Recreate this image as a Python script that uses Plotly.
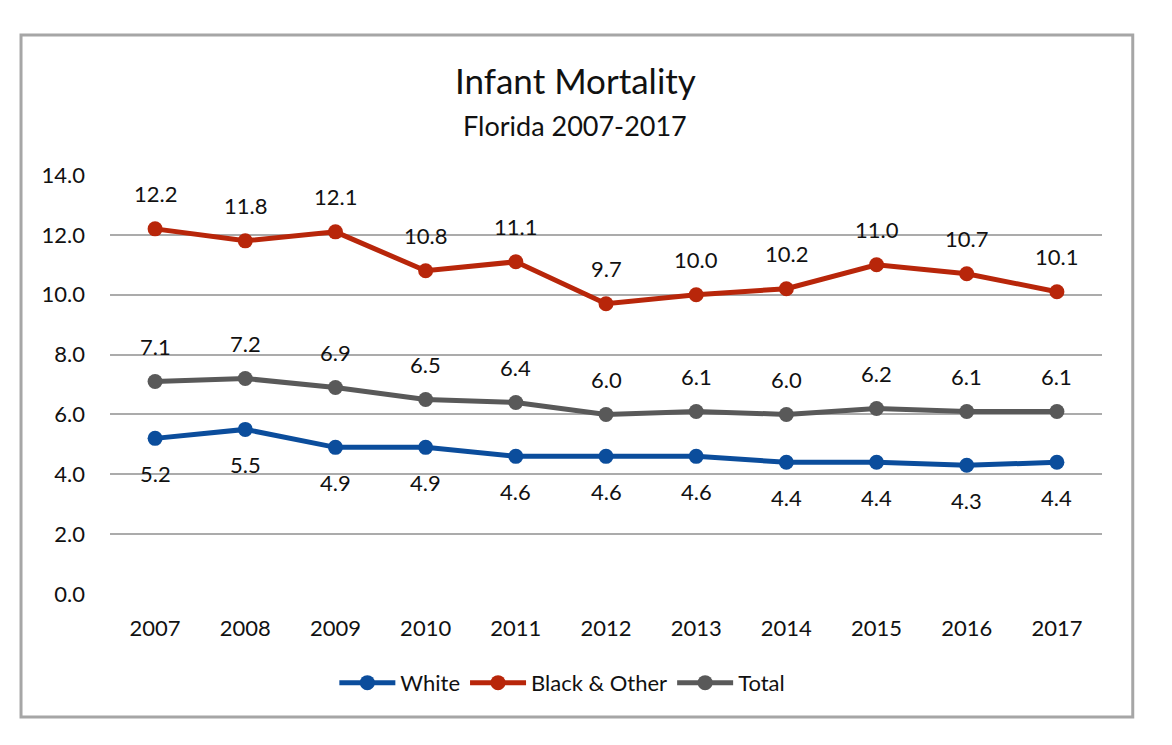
import plotly.graph_objects as go

years = ["2007", "2008", "2009", "2010", "2011", "2012", "2013", "2014", "2015", "2016", "2017"]
white = [5.2, 5.5, 4.9, 4.9, 4.6, 4.6, 4.6, 4.4, 4.4, 4.3, 4.4]
black_other = [12.2, 11.8, 12.1, 10.8, 11.1, 9.7, 10.0, 10.2, 11.0, 10.7, 10.1]
total = [7.1, 7.2, 6.9, 6.5, 6.4, 6.0, 6.1, 6.0, 6.2, 6.1, 6.1]
y_ticks = [0, 2, 4, 6, 8, 10, 12, 14]

FONT = "Lato, 'Open Sans', sans-serif"
series = [
    ("White", white, "#0B4D9C", -1),
    ("Black & Other", black_other, "#B8260A", 1),
    ("Total", total, "#595959", 1),
]

fig = go.Figure()
annotations = []
for name, vals, color, side in series:
    fig.add_trace(go.Scatter(
        x=years, y=vals, name=name, mode="lines+markers",
        line=dict(color=color, width=5),
        marker=dict(color=color, size=15),
    ))
    for i, yv in enumerate(vals):
        annotations.append(dict(
            x=i, y=yv, xref="x", yref="y", text=f"{yv:.1f}",
            showarrow=False, yshift=35 * side,
            font=dict(family=FONT, size=22, color="#111111"),
        ))

annotations.append(dict(
    x=0.469, y=1.227, xref="paper", yref="paper", text="Infant Mortality",
    showarrow=False, xanchor="center", yanchor="middle",
    font=dict(family=FONT, size=35, color="#111111"),
))
annotations.append(dict(
    x=0.469, y=1.119, xref="paper", yref="paper", text="Florida 2007-2017",
    showarrow=False, xanchor="center", yanchor="middle",
    font=dict(family=FONT, size=27, color="#111111"),
))

fig.update_layout(
    width=1164, height=737,
    margin=dict(l=102, r=70, t=167, b=151),
    paper_bgcolor="white", plot_bgcolor="white",
    font=dict(family=FONT, size=22, color="#111111"),
    showlegend=True,
    legend=dict(orientation="h", x=0.456, xanchor="center", y=-0.212, yanchor="middle",
                font=dict(family=FONT, size=22, color="#111111"), itemwidth=56,
                traceorder="normal"),
    annotations=annotations,
    shapes=[dict(type="rect", xref="paper", yref="paper",
                 x0=-0.0897, x1=1.031, y0=-0.2936, y1=1.334,
                 line=dict(color="#A6A6A6", width=3), layer="below")],
)
fig.update_xaxes(type="category", range=[-0.5, 10.5], showgrid=False, showline=False,
                 ticks="", ticklabelstandoff=19, tickfont=dict(family=FONT, size=22))
fig.update_yaxes(range=[0, 14], tickvals=y_ticks, tickformat=".1f",
                 showgrid=True, gridcolor="#ABABAB", gridwidth=2, zeroline=False,
                 showline=False, ticks="", ticklabelstandoff=24,
                 tickfont=dict(family=FONT, size=22))

fig.write_html("out.html")
